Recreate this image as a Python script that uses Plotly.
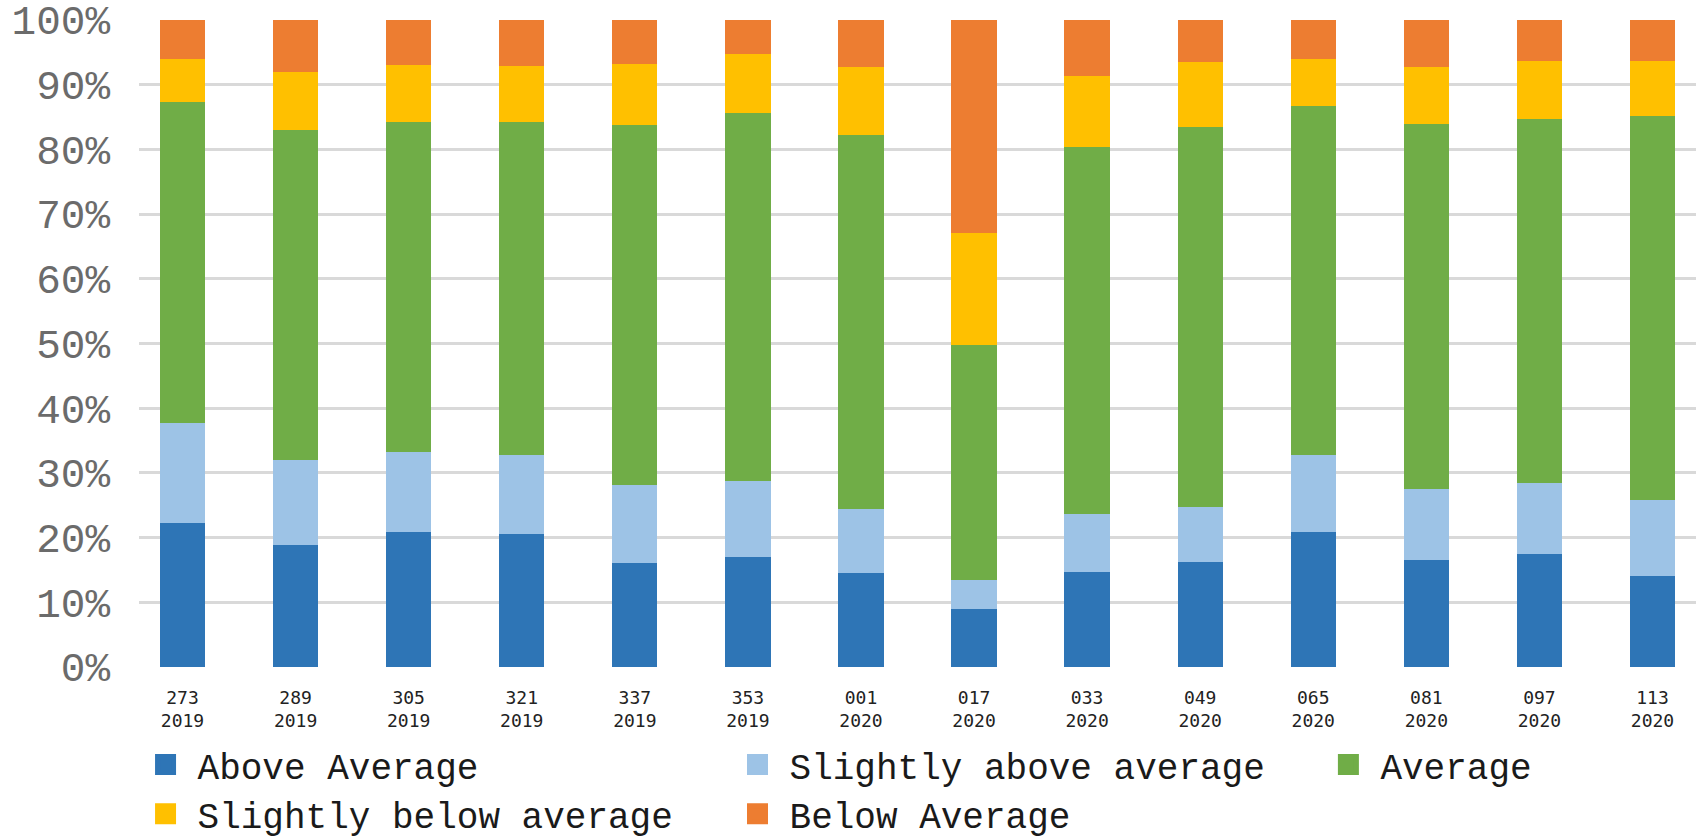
import plotly.graph_objects as go

categories = ["273<br>2019", "289<br>2019", "305<br>2019", "321<br>2019", "337<br>2019",
              "353<br>2019", "001<br>2020", "017<br>2020", "033<br>2020", "049<br>2020",
              "065<br>2020", "081<br>2020", "097<br>2020", "113<br>2020"]

above_average = [22.3, 18.9, 20.8, 20.5, 16.1, 17.0, 14.6, 9.0, 14.7, 16.3, 20.8, 16.5, 17.4, 14.1]
slightly_above = [15.4, 13.1, 12.4, 12.3, 12.0, 11.7, 9.8, 4.4, 9.0, 8.5, 11.9, 11.0, 11.0, 11.7]
average = [49.7, 51.0, 51.0, 51.4, 55.7, 56.9, 57.9, 36.3, 56.6, 58.7, 54.0, 56.4, 56.3, 59.3]
slightly_below = [6.5, 9.0, 8.8, 8.7, 9.4, 9.1, 10.4, 17.4, 11.0, 10.0, 7.3, 8.9, 8.9, 8.6]
below_average = [6.1, 8.0, 7.0, 7.1, 6.8, 5.3, 7.3, 32.9, 8.7, 6.5, 6.0, 7.2, 6.4, 6.3]

series_names = ["Above Average", "Slightly above average", "Average",
                "Slightly below average", "Below Average"]
series_values = [above_average, slightly_above, average, slightly_below, below_average]
series_colors = ["#2E75B6", "#9DC3E6", "#70AD47", "#FFC000", "#ED7D31"]

y_ticks = [0, 10, 20, 30, 40, 50, 60, 70, 80, 90, 100]
y_ticktext = [f"{v}%" for v in y_ticks]

# legend placement (one legend box per entry, laid out like the original's grid)
legend_ids = ["legend", "legend2", "legend3", "legend4", "legend5"]
legend_pos = [(-0.0035, -0.1510), (0.3767, -0.1510), (0.7562, -0.1510),
              (-0.0035, -0.2268), (0.3767, -0.2268)]

fig = go.Figure()
for name, vals, color in zip(series_names, series_values, series_colors):
    fig.add_trace(go.Bar(x=categories, y=vals, name=name, marker_color=color,
                         marker_line_width=0, showlegend=False, legendgroup=name))
for name, color, lid in zip(series_names, series_colors, legend_ids):
    fig.add_trace(go.Scatter(x=[None], y=[None], mode="markers", name=name,
                             legendgroup=name, legend=lid,
                             marker=dict(symbol="square", size=16, color=color,
                                         line=dict(width=5, color=color))))

legend_style = dict(orientation="h", xanchor="left", yanchor="middle",
                    font=dict(family="Liberation Mono", size=36, color="#1a1a1a"),
                    itemsizing="trace", itemwidth=54, bgcolor="rgba(0,0,0,0)")
layout_legends = {}
for lid, (lx, ly) in zip(legend_ids, legend_pos):
    layout_legends[lid] = dict(legend_style, x=lx, y=ly)

fig.update_layout(
    width=1697, height=839,
    margin=dict(l=139, r=1, t=20, b=172, autoexpand=False),
    barmode="stack", bargap=0.6,
    plot_bgcolor="white", paper_bgcolor="white",
    font=dict(family="Liberation Mono", color="#222222"),
    xaxis=dict(range=[-0.385, 13.385], showgrid=False, showline=False, ticks="",
               ticklabelstandoff=18,
               tickfont=dict(family="DejaVu Sans Mono", size=18, color="#222222")),
    yaxis=dict(range=[0, 100], tickvals=y_ticks, ticktext=y_ticktext,
               gridcolor="#d9d9d9", gridwidth=3, zeroline=False, showline=False,
               ticklabelstandoff=28,
               tickfont=dict(family="Liberation Mono", size=41, color="#6b6b6b")),
    **layout_legends,
)

fig.write_html("out.html")
